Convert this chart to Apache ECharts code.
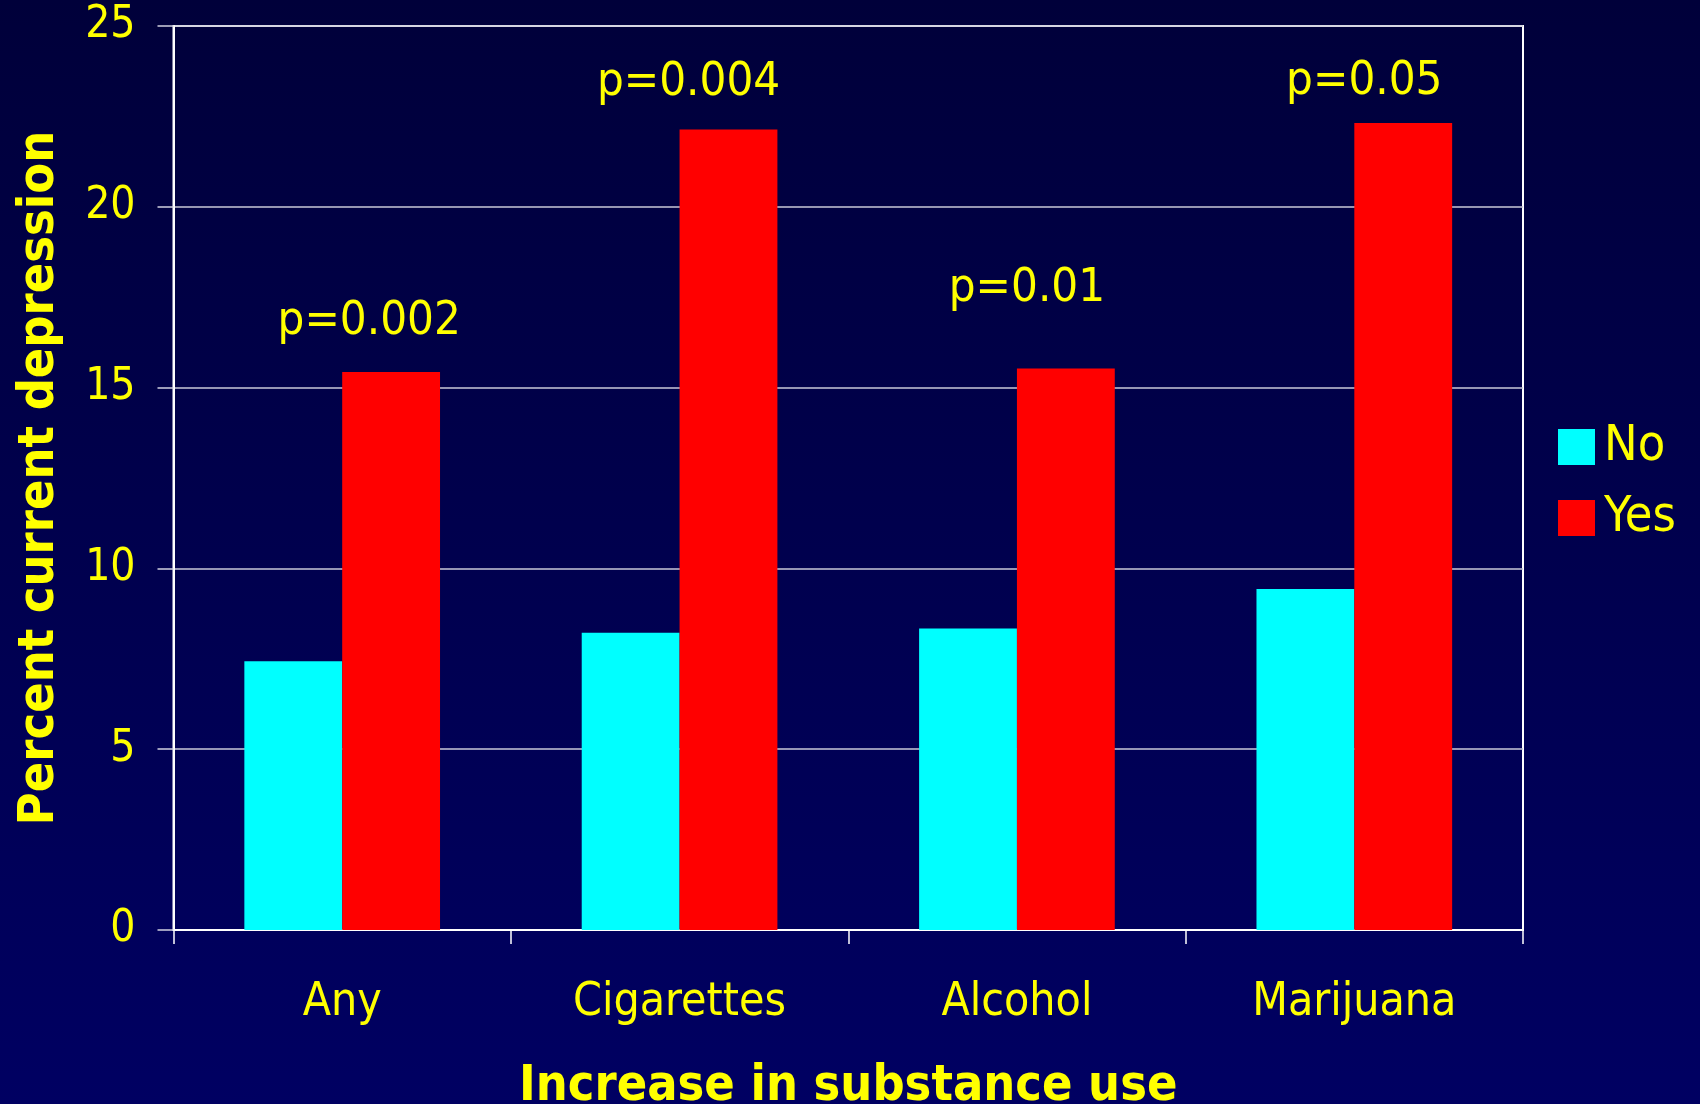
<!DOCTYPE html>
<html>
<head>
<meta charset="utf-8">
<title>Percent current depression by increase in substance use</title>
<script src="https://cdn.jsdelivr.net/npm/echarts@6/dist/echarts.min.js"></script>
<style>
  html, body { margin: 0; padding: 0; }
  #chart { width: 1700px; height: 1104px; }
</style>
</head>
<body>
<div id="chart"></div>
<script>
// Substance categories on the x axis
const categories = ['Any', 'Cigarettes', 'Alcohol', 'Marijuana'];
// Percent with current depression, by whether substance use increased
const noValues = [7.43, 8.22, 8.34, 9.43];
const yesValues = [15.43, 22.14, 15.53, 22.32];
// Significance labels for each category and the level they sit at
const pLabels = ['p=0.002', 'p=0.004', 'p=0.01', 'p=0.05'];
const pLabelLevels = [16.83, 23.43, 17.72, 23.45];
// Y-axis ticks
const yTicks = [0, 5, 10, 15, 20, 25];

const YELLOW = '#ffff00';
const FONT = '"DejaVu Sans Condensed", "DejaVu Sans", sans-serif';
// Horizontal nudge of each p-value label from its category centre (px)
const pLabelShift = [27, 9, 10, 10];

const chart = echarts.init(document.getElementById('chart'), null, { renderer: 'canvas' });

const option = {
  animation: false,
  backgroundColor: {
    type: 'linear', x: 0, y: 0, x2: 0, y2: 1,
    colorStops: [
      { offset: 0, color: '#00003a' },
      { offset: 1, color: '#000062' }
    ]
  },
  textStyle: { fontFamily: FONT, color: YELLOW },
  grid: {
    left: 173.5, right: 177, top: 26, bottom: 174,
    containLabel: false,
    outerBoundsMode: 'none',
    show: true, borderColor: '#ffffff', borderWidth: 2,
    backgroundColor: 'transparent'
  },
  legend: {
    data: ['No', 'Yes'],
    orient: 'vertical',
    left: 1553, top: 417,
    itemWidth: 37, itemHeight: 36, itemGap: 21,
    icon: 'rect',
    textStyle: { color: YELLOW, fontSize: 50, fontFamily: FONT, padding: [0, 0, 0, 4], lineHeight: 50 }
  },
  xAxis: {
    type: 'category',
    data: categories,
    name: 'Increase in substance use',
    nameLocation: 'middle',
    nameGap: 132,
    nameTextStyle: { color: YELLOW, fontSize: 50, fontWeight: 'bold', fontFamily: FONT },
    axisLine: { lineStyle: { color: '#ffffff', width: 2 } },
    axisTick: { show: true, length: 14, lineStyle: { color: '#ffffff', width: 1.5 } },
    axisLabel: { color: YELLOW, fontSize: 46, margin: 50, fontFamily: FONT },
    splitLine: { show: false }
  },
  yAxis: {
    type: 'value',
    min: yTicks[0], max: yTicks[yTicks.length - 1], interval: yTicks[1] - yTicks[0],
    name: 'Percent current depression',
    nameLocation: 'middle',
    nameGap: 108,
    nameRotate: 90,
    nameTextStyle: { color: YELLOW, fontSize: 50, fontWeight: 'bold', fontFamily: FONT },
    axisLine: { show: true, lineStyle: { color: '#ffffff', width: 2 } },
    axisTick: { show: true, length: 16, lineStyle: { color: '#d0d0e0', width: 1.5 } },
    axisLabel: { color: YELLOW, fontSize: 44, margin: 38, fontFamily: FONT },
    splitLine: { show: true, lineStyle: { color: '#c8c8d8', width: 1.5 } }
  },
  series: [
    {
      name: 'No', type: 'bar', data: noValues,
      barGap: '0%', barCategoryGap: '42%',
      itemStyle: { color: '#00ffff' }
    },
    {
      name: 'Yes', type: 'bar', data: yesValues,
      barGap: '0%', barCategoryGap: '42%',
      itemStyle: { color: '#ff0000' }
    },
    {
      name: 'p-values', type: 'scatter',
      symbolSize: 0,
      silent: true,
      itemStyle: { color: YELLOW, opacity: 1 },
      data: pLabelLevels.map((v, i) => ({
        value: [i, v],
        label: {
          show: true, position: 'inside', offset: [pLabelShift[i], 0],
          formatter: pLabels[i],
          color: YELLOW, fontSize: 47, fontFamily: FONT,
          textBorderWidth: 0, textBorderColor: 'transparent'
        }
      }))
    }
  ]
};

chart.setOption(option);
</script>
</body>
</html>
